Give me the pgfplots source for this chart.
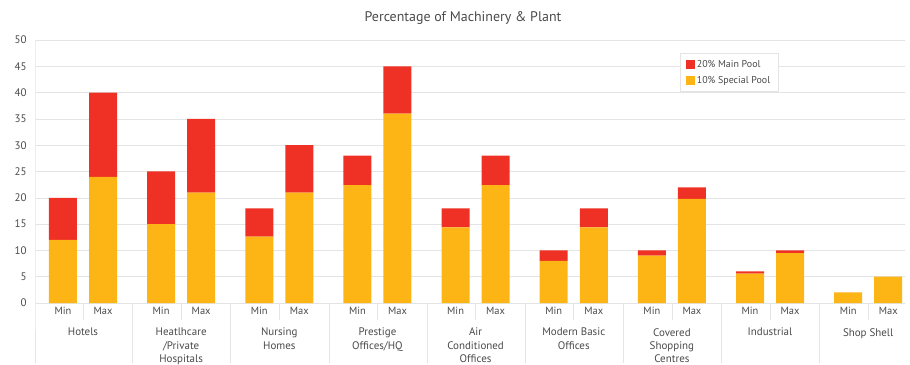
\documentclass[border=0pt]{standalone}
\usepackage{fontspec}
\setmainfont{PT Sans}
\usepackage{pgfplots}
\pgfplotsset{compat=1.18}
\usepackage{pgfplotstable}
\definecolor{mainred}{HTML}{EE3124}
\definecolor{specyel}{HTML}{FDB515}
\definecolor{txt}{HTML}{4A4A4A}
\definecolor{gridc}{HTML}{E4E4E4}

\pgfplotstableread{
x yellow red
0 12 8
0.408 24 16
1 15 10
1.408 21 14
2 12.6 5.4
2.408 21 9
3 22.4 5.6
3.408 36 9
4 14.4 3.6
4.408 22.4 5.6
5 8 2
5.408 14.4 3.6
6 9 1
6.408 19.8 2.2
7 5.6 0.4
7.408 9.5 0.5
8 2 0
8.408 5 0
}\barstable

\tikzset{catlabel/.style={anchor=north, align=center, font=\fontsize{11}{13.5}\selectfont, text=txt, inner sep=0pt, yshift=-25bp},
  sepline/.style={draw=gridc, line width=0.8pt}}
\pgfplotsset{sqlegend/.style={legend image code/.code={\fill[##1] (0bp,-4.5bp) rectangle (9bp,4.5bp);}}}

\begin{document}
\begin{tikzpicture}[font=\fontsize{11}{13}\selectfont]
\path (-35bp,-60bp) rectangle (875bp,303bp);
\begin{axis}[
  at={(0,0)}, anchor=south west,
  scale only axis, width=870bp, height=263bp,
  xmin=-0.285, xmax=8.579, ymin=0, ymax=50,
  ybar stacked, bar width=28bp,
  ytick={0,5,10,15,20,25,30,35,40,45,50},
  yticklabels={0,5,10,15,20,25,30,35,40,45,50},
  ymajorgrids, grid style={draw=gridc, line width=0.6pt},
  axis line style={draw=none},
  major tick length=0pt,
  xtick={0,0.408,1,1.408,2,2.408,3,3.408,4,4.408,5,5.408,6,6.408,7,7.408,8,8.408},
  xticklabels={Min,Max,Min,Max,Min,Max,Min,Max,Min,Max,Min,Max,Min,Max,Min,Max,Min,Max},
  xticklabel style={yshift=-1bp, text=txt, font=\fontsize{10.5}{12}\selectfont},
  yticklabel style={xshift=-5bp, text=txt, font=\fontsize{11}{12}\selectfont},
  clip=false,
  reverse legend,
  legend style={at={(rel axis cs:0.741,0.95)}, anchor=north west, draw=gridc,
    font=\fontsize{10}{12}\selectfont, text=txt, row sep=3bp, inner xsep=6bp, inner ysep=5bp},
  legend cell align=left,
]
\addplot[fill=specyel, draw=none, sqlegend] table[x=x, y=yellow] {\barstable};
\addlegendentry{10\% Special Pool}
\addplot[fill=mainred, draw=none, sqlegend] table[x=x, y=red] {\barstable};
\addlegendentry{20\% Main Pool}

\draw[sepline] (rel axis cs:0,1) -- (rel axis cs:0,0) -- ++(0pt,-60bp);
\draw[sepline] (axis cs:0.71,0) -- ++(0pt,-60bp);
\draw[sepline] (axis cs:1.71,0) -- ++(0pt,-60bp);
\draw[sepline] (axis cs:2.71,0) -- ++(0pt,-60bp);
\draw[sepline] (axis cs:3.71,0) -- ++(0pt,-60bp);
\draw[sepline] (axis cs:4.71,0) -- ++(0pt,-60bp);
\draw[sepline] (axis cs:5.71,0) -- ++(0pt,-60bp);
\draw[sepline] (axis cs:6.71,0) -- ++(0pt,-60bp);
\draw[sepline] (axis cs:7.71,0) -- ++(0pt,-60bp);
\draw[sepline] (axis cs:0.204,0) -- ++(0pt,-17bp);
\draw[sepline] (axis cs:1.204,0) -- ++(0pt,-17bp);
\draw[sepline] (axis cs:2.204,0) -- ++(0pt,-17bp);
\draw[sepline] (axis cs:3.204,0) -- ++(0pt,-17bp);
\draw[sepline] (axis cs:4.204,0) -- ++(0pt,-17bp);
\draw[sepline] (axis cs:5.204,0) -- ++(0pt,-17bp);
\draw[sepline] (axis cs:6.204,0) -- ++(0pt,-17bp);
\draw[sepline] (axis cs:7.204,0) -- ++(0pt,-17bp);
\draw[sepline] (axis cs:8.204,0) -- ++(0pt,-17bp);
\node[catlabel] at (axis cs:0.204,0) {Hotels};
\node[catlabel] at (axis cs:1.204,0) {Heatlhcare\\/Private\\Hospitals};
\node[catlabel] at (axis cs:2.204,0) {Nursing\\Homes};
\node[catlabel] at (axis cs:3.204,0) {Prestige\\Offices/HQ};
\node[catlabel] at (axis cs:4.204,0) {Air\\Conditioned\\Offices};
\node[catlabel] at (axis cs:5.204,0) {Modern Basic\\Offices};
\node[catlabel] at (axis cs:6.204,0) {Covered\\Shopping\\Centres};
\node[catlabel] at (axis cs:7.204,0) {Industrial};
\node[catlabel] at (axis cs:8.204,0) {Shop Shell};
\end{axis}
\node[font=\fontsize{14}{16}\selectfont, text=txt] at (428bp,285bp) {Percentage of Machinery \& Plant};
\end{tikzpicture}
\end{document}
